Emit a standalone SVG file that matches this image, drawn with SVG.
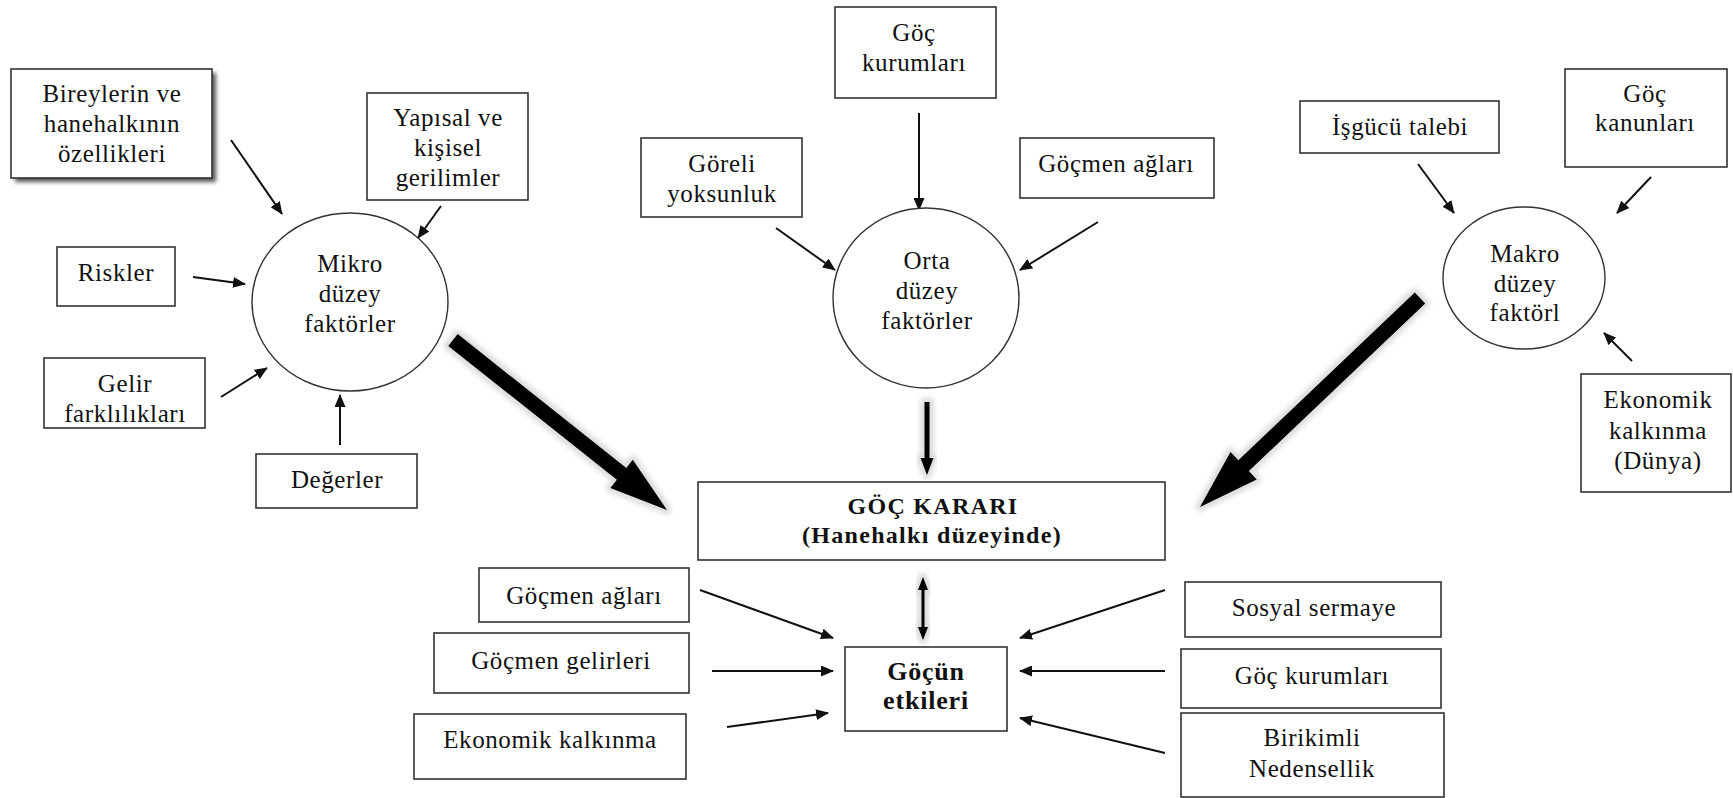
<svg xmlns="http://www.w3.org/2000/svg" width="1733" height="798" viewBox="0 0 1733 798">
<style>
.box{fill:#fff;stroke:#333;stroke-width:1.6}
.circ{fill:#fff;stroke:#333;stroke-width:1.4}
text{font-family:"Liberation Serif","Times New Roman",serif;font-size:25px;fill:#111;text-anchor:middle;letter-spacing:0.6px}
.b{font-weight:bold;font-size:24px;letter-spacing:1.3px}
.b2{font-weight:bold;font-size:26px;letter-spacing:0.8px}
.arr{stroke:#111;stroke-width:2;fill:none;marker-end:url(#ah)}
.big{fill:#000}
.halo{fill:#ddd;stroke:#ddd;stroke-width:9;stroke-linejoin:round;filter:url(#blur)}
</style>
<defs>
<marker id="ah" markerUnits="userSpaceOnUse" markerWidth="13" markerHeight="11" refX="12" refY="5.5" orient="auto">
<path d="M0,0 L13,5.5 L0,11 z" fill="#111"/>
</marker>
<filter id="blur" x="-20%" y="-20%" width="140%" height="140%"><feGaussianBlur stdDeviation="2.5"/></filter>
<filter id="shadow" x="-10%" y="-10%" width="130%" height="130%"><feGaussianBlur stdDeviation="2"/></filter>
</defs>
<rect width="1733" height="798" fill="#fff"/>

<g id="connectors">
<line class="arr" x1="231" y1="140" x2="282" y2="214"/>
<line class="arr" x1="441" y1="206" x2="418" y2="238"/>
<line class="arr" x1="193" y1="277" x2="245" y2="284"/>
<line class="arr" x1="221" y1="397" x2="267" y2="368"/>
<line class="arr" x1="340" y1="445" x2="340" y2="395"/>
<line class="arr" x1="919" y1="113" x2="919" y2="210"/>
<line class="arr" x1="776" y1="228" x2="835" y2="270"/>
<line class="arr" x1="1098" y1="222" x2="1020" y2="270"/>
<line class="arr" x1="1418" y1="164" x2="1454" y2="213"/>
<line class="arr" x1="1651" y1="177" x2="1617" y2="213"/>
<line class="arr" x1="1632" y1="361" x2="1604" y2="333"/>
<line class="arr" x1="700" y1="590" x2="833" y2="638"/>
<line class="arr" x1="712" y1="671" x2="833" y2="671"/>
<line class="arr" x1="727" y1="727" x2="828" y2="713"/>
<line class="arr" x1="1165" y1="590" x2="1020" y2="638"/>
<line class="arr" x1="1165" y1="671" x2="1020" y2="671"/>
<line class="arr" x1="1165" y1="753" x2="1020" y2="718"/>
<polygon class="halo" points="457.7,334.1 626.3,468 632.8,459.8 667,510 610.4,488 616.9,479.8 448.3,345.9"/>
<polygon class="big" points="457.7,334.1 626.3,468 632.8,459.8 667,510 610.4,488 616.9,479.8 448.3,345.9"/>
<polygon class="halo" points="1414.8,292.6 1238.4,460.3 1230.5,451.9 1200,507 1256.7,479.5 1248.8,471.1 1425.2,303.4"/>
<polygon class="big" points="1414.8,292.6 1238.4,460.3 1230.5,451.9 1200,507 1256.7,479.5 1248.8,471.1 1425.2,303.4"/>
<polygon class="halo" points="924.5,402 929.5,402 929.5,458 933.5,458 927,475 920.5,458 924.5,458"/>
<polygon class="big" points="924.5,402 929.5,402 929.5,458 933.5,458 927,475 920.5,458 924.5,458"/>
<polygon class="halo" points="923,577 928,590 924.5,590 924.5,627 928,627 923,640 918,627 921.5,627 921.5,590 918,590"/>
<polygon class="big" points="923,577 928,590 924.5,590 924.5,627 928,627 923,640 918,627 921.5,627 921.5,590 918,590"/>
</g>

<g id="n-bireylerin">
<rect x="15" y="73" width="201" height="109" fill="#555" filter="url(#shadow)"/>
<rect class="box" x="11" y="69" width="201" height="109"/>
<text x="112" y="102">Bireylerin ve</text>
<text x="112" y="132">hanehalkının</text>
<text x="112" y="162">özellikleri</text>
</g>
<g id="n-yapisal">
<rect class="box" x="367" y="93" width="161" height="107"/>
<text x="448" y="126">Yapısal ve</text>
<text x="448" y="156">kişisel</text>
<text x="448" y="186">gerilimler</text>
</g>
<g id="n-riskler">
<rect class="box" x="57" y="247" width="118" height="59"/>
<text x="116" y="281">Riskler</text>
</g>
<g id="n-gelir">
<rect class="box" x="44" y="358" width="161" height="70"/>
<text x="125" y="392">Gelir</text>
<text x="125" y="422">farklılıkları</text>
</g>
<g id="n-degerler">
<rect class="box" x="256" y="454" width="161" height="54"/>
<text x="337" y="488">Değerler</text>
</g>
<g id="n-mikro">
<ellipse class="circ" cx="350" cy="302" rx="98" ry="89"/>
<text x="350" y="272">Mikro</text>
<text x="350" y="302">düzey</text>
<text x="350" y="332">faktörler</text>
</g>

<g id="n-gockurumlari-top">
<rect class="box" x="835" y="7" width="161" height="91"/>
<text x="914" y="41">Göç</text>
<text x="914" y="71">kurumları</text>
</g>
<g id="n-goreli">
<rect class="box" x="641" y="138" width="161" height="79"/>
<text x="722" y="172">Göreli</text>
<text x="722" y="202">yoksunluk</text>
</g>
<g id="n-gocmenaglari-top">
<rect class="box" x="1020" y="138" width="194" height="60"/>
<text x="1116" y="172">Göçmen ağları</text>
</g>
<g id="n-orta">
<ellipse class="circ" cx="926" cy="298" rx="93" ry="90"/>
<text x="927" y="269">Orta</text>
<text x="927" y="299">düzey</text>
<text x="927" y="329">faktörler</text>
</g>

<g id="n-isgucu">
<rect class="box" x="1300" y="101" width="199" height="52"/>
<text x="1400" y="135">İşgücü talebi</text>
</g>
<g id="n-kanunlar">
<rect class="box" x="1565" y="69" width="162" height="98"/>
<text x="1645" y="102">Göç</text>
<text x="1645" y="131">kanunları</text>
</g>
<g id="n-makro">
<ellipse class="circ" cx="1524" cy="278" rx="81" ry="71"/>
<text x="1525" y="262">Makro</text>
<text x="1525" y="292">düzey</text>
<text x="1525" y="321">faktörl</text>
</g>
<g id="n-ekonomik-dunya">
<rect class="box" x="1581" y="374" width="150" height="118"/>
<text x="1658" y="408">Ekonomik</text>
<text x="1658" y="439">kalkınma</text>
<text x="1658" y="469">(Dünya)</text>
</g>

<g id="n-gockarari">
<rect class="box" x="698" y="482" width="467" height="78"/>
<text class="b" x="933" y="514">GÖÇ KARARI</text>
<text class="b" x="932" y="543">(Hanehalkı düzeyinde)</text>
</g>
<g id="n-etkiler">
<rect class="box" x="845" y="647" width="162" height="84"/>
<text class="b2" x="926" y="680">Göçün</text>
<text class="b2" x="926" y="709">etkileri</text>
</g>
<g id="n-gocmenaglari-bot">
<rect class="box" x="479" y="568" width="210" height="54"/>
<text x="584" y="604">Göçmen ağları</text>
</g>
<g id="n-gelirleri">
<rect class="box" x="434" y="633" width="255" height="60"/>
<text x="561" y="669">Göçmen gelirleri</text>
</g>
<g id="n-ekonomik">
<rect class="box" x="414" y="714" width="272" height="65"/>
<text x="550" y="748">Ekonomik kalkınma</text>
</g>
<g id="n-sosyal">
<rect class="box" x="1185" y="582" width="256" height="55"/>
<text x="1314" y="616">Sosyal sermaye</text>
</g>
<g id="n-gockurumlari-bot">
<rect class="box" x="1181" y="649" width="260" height="59"/>
<text x="1312" y="684">Göç kurumları</text>
</g>
<g id="n-birikimli">
<rect class="box" x="1181" y="713" width="263" height="84"/>
<text x="1312" y="746">Birikimli</text>
<text x="1312" y="777">Nedensellik</text>
</g>
</svg>
